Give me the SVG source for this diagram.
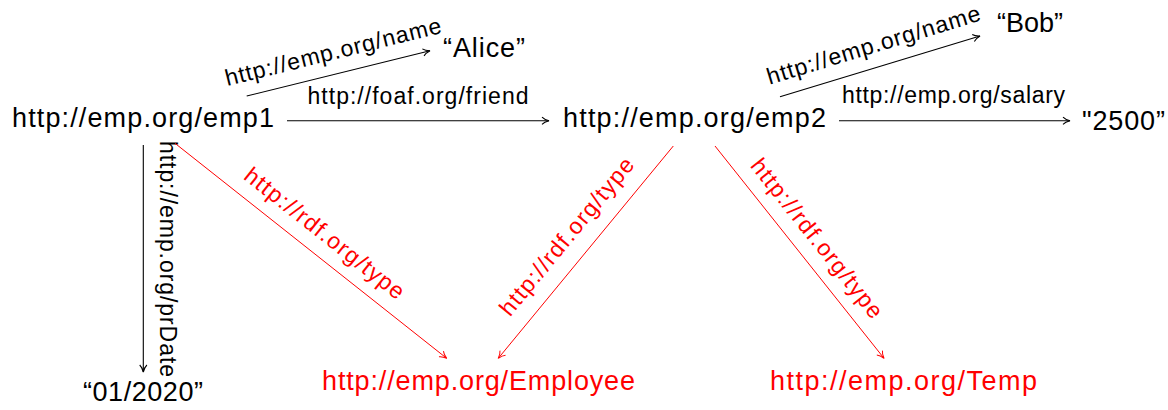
<svg xmlns="http://www.w3.org/2000/svg" width="1168" height="410" viewBox="0 0 1168 410">
<style>
  .node { font-family: "Liberation Sans", Arial, sans-serif; font-size: 27px; fill: #000; }
  .lbl { font-family: "Liberation Sans", Arial, sans-serif; font-size: 23px; fill: #000; }
  .red { fill: #ff0000; }
  .edge { stroke: #000; stroke-width: 1.1; fill: none; marker-end: url(#arrB); }
  .redge { stroke: #ff0000; stroke-width: 1; fill: none; marker-end: url(#arrR); }
</style>
<defs>
  <marker id="arrB" markerUnits="userSpaceOnUse" orient="auto" refX="0" refY="0" markerWidth="10" markerHeight="10" overflow="visible">
    <path d="M -7,-3.6 C -5,-1.5 -2,-0.5 0,0 C -2,0.5 -5,1.5 -7,3.6" fill="none" stroke="#000" stroke-width="1.1"/>
  </marker>
  <marker id="arrR" markerUnits="userSpaceOnUse" orient="auto" refX="0" refY="0" markerWidth="10" markerHeight="10" overflow="visible">
    <path d="M -7,-3.6 C -5,-1.5 -2,-0.5 0,0 C -2,0.5 -5,1.5 -7,3.6" fill="none" stroke="#ff0000" stroke-width="1"/>
  </marker>
</defs>
<rect width="1168" height="410" fill="#fff"/>

<g id="connectors">
  <g id="e-emp1-name">
    <line class="edge" x1="246.7" y1="96" x2="430" y2="50.7"/>
    <text class="lbl" text-anchor="middle" textLength="222" lengthAdjust="spacing" transform="translate(334.9,59.3) rotate(-13.9)">http://emp.org/name</text>
  </g>
  <g id="e-emp1-friend">
    <line class="edge" x1="287" y1="120.7" x2="549" y2="120.7"/>
    <text class="lbl" x="418" y="104" text-anchor="middle" textLength="221" lengthAdjust="spacing">http://foaf.org/friend</text>
  </g>
  <g id="e-emp2-name">
    <line class="edge" x1="780" y1="96.7" x2="980" y2="36"/>
    <text class="lbl" text-anchor="middle" textLength="222" lengthAdjust="spacing" transform="translate(875.8,52.4) rotate(-16.9)">http://emp.org/name</text>
  </g>
  <g id="e-emp2-salary">
    <line class="edge" x1="839" y1="120.7" x2="1070" y2="120.7"/>
    <text class="lbl" x="953.5" y="103" text-anchor="middle" textLength="223" lengthAdjust="spacing">http://emp.org/salary</text>
  </g>
  <g id="e-emp1-prdate">
    <line class="edge" x1="143.3" y1="145" x2="143.3" y2="372"/>
    <text class="lbl" text-anchor="middle" textLength="236" lengthAdjust="spacing" transform="translate(160,259) rotate(90)">http://emp.org/prDate</text>
  </g>
  <g id="e-emp1-type">
    <line class="redge" x1="175" y1="143.3" x2="446.7" y2="358.3"/>
    <text class="lbl red" text-anchor="middle" textLength="197" lengthAdjust="spacing" transform="translate(319.8,239.4) rotate(38.35)">http://rdf.org/type</text>
  </g>
  <g id="e-emp2-type-employee">
    <line class="redge" x1="673.3" y1="146" x2="498.3" y2="358.3"/>
    <text class="lbl red" text-anchor="middle" textLength="197" lengthAdjust="spacing" transform="translate(572.7,241.4) rotate(-50.5)">http://rdf.org/type</text>
  </g>
  <g id="e-emp2-type-temp">
    <line class="redge" x1="715" y1="146" x2="884" y2="358.3"/>
    <text class="lbl red" text-anchor="middle" textLength="197" lengthAdjust="spacing" transform="translate(810.9,243.2) rotate(51.5)">http://rdf.org/type</text>
  </g>
</g>

<g id="emp1"><text class="node" x="12" y="127" textLength="262" lengthAdjust="spacing">http://emp.org/emp1</text></g>
<g id="emp2"><text class="node" x="563" y="127" textLength="263" lengthAdjust="spacing">http://emp.org/emp2</text></g>
<g id="alice"><text class="node" x="443" y="57" textLength="82" lengthAdjust="spacing">“Alice”</text></g>
<g id="bob"><text class="node" x="997" y="32" textLength="66" lengthAdjust="spacing">“Bob”</text></g>
<g id="salary-value"><text class="node" x="1082" y="130" textLength="83" lengthAdjust="spacing">"2500”</text></g>
<g id="prdate-value"><text class="node" x="83" y="401" textLength="120" lengthAdjust="spacing">“01/2020”</text></g>
<g id="employee"><text class="node red" x="322" y="390" textLength="313" lengthAdjust="spacing">http://emp.org/Employee</text></g>
<g id="temp"><text class="node red" x="770" y="390" textLength="267" lengthAdjust="spacing">http://emp.org/Temp</text></g>
</svg>
